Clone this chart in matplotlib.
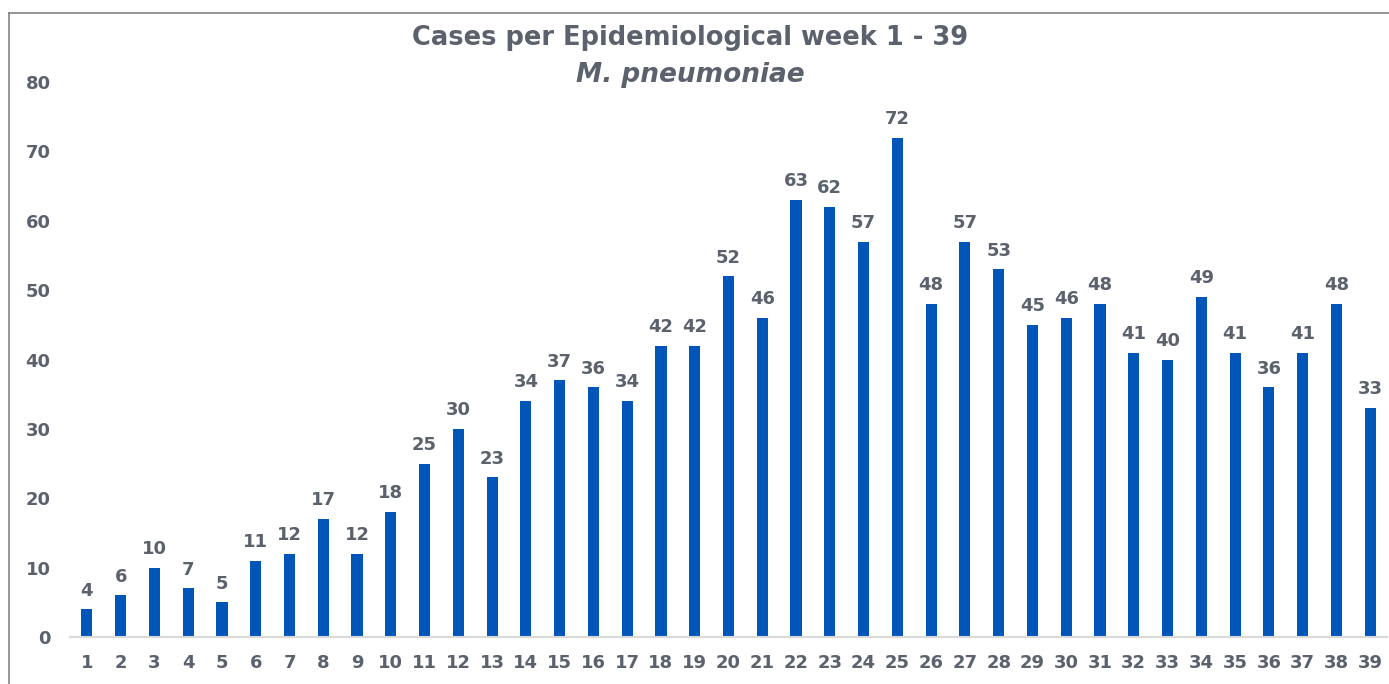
import matplotlib.pyplot as plt
from matplotlib.lines import Line2D

# Weekly case counts, M. pneumoniae
weeks = list(range(1, 40))
cases = [4, 6, 10, 7, 5, 11, 12, 17, 12, 18, 25, 30, 23, 34, 37, 36, 34, 42, 42,
         52, 46, 63, 62, 57, 72, 48, 57, 53, 45, 46, 48, 41, 40, 49, 41, 36, 41, 48, 33]
y_ticks = [0, 10, 20, 30, 40, 50, 60, 70, 80]

bar_color = "#0055B8"
text_color = "#5B626D"

fig = plt.figure(figsize=(13.89, 6.84), dpi=100)
ax = fig.add_axes([0.0504, 0.0687, 0.9482, 0.8113])

bars = ax.bar(weeks, cases, width=0.33, color=bar_color)
ax.bar_label(bars, padding=7, fontsize=13, fontweight="bold", color=text_color)

ax.set_xlim(0.5, 39.5)
ax.set_ylim(0, 80)
ax.set_xticks(weeks)
ax.set_yticks(y_ticks)
ax.tick_params(length=0, labelsize=13, labelcolor=text_color)
ax.tick_params(axis="x", pad=12)
ax.tick_params(axis="y", pad=14)
for lbl in ax.get_xticklabels() + ax.get_yticklabels():
    lbl.set_fontweight("bold")

for side in ["top", "right", "left"]:
    ax.spines[side].set_visible(False)
ax.spines["bottom"].set_color("#D9D9D9")
ax.spines["bottom"].set_linewidth(1.5)

# Title
fig.text(0.497, 0.945, "Cases per Epidemiological week 1 - 39", ha="center", va="center",
         fontsize=18.5, fontweight="bold", color=text_color)
fig.text(0.497, 0.89, "M. pneumoniae", ha="center", va="center",
         fontsize=19, fontweight="bold", style="italic", color=text_color)

# Chart border (left and top visible in crop)
fig.add_artist(Line2D([0.0065, 0.0065], [0, 0.981], transform=fig.transFigure,
                      color="#7F8389", linewidth=1.2))
fig.add_artist(Line2D([0.0065, 1.0], [0.981, 0.981], transform=fig.transFigure,
                      color="#7F8389", linewidth=1.2))

fig.savefig("out.png", dpi=100)
